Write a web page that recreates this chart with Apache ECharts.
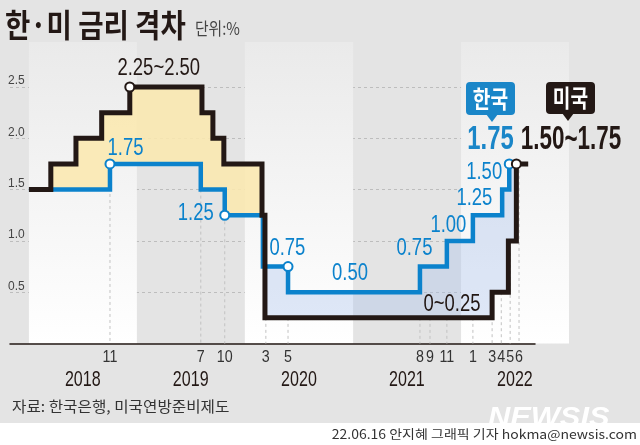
<!DOCTYPE html>
<html><head><meta charset="utf-8">
<script src="https://cdn.jsdelivr.net/npm/echarts@6/dist/echarts.min.js"></script>
<style>html,body{margin:0;padding:0;background:#e4e4e4}#c{width:640px;height:445px}</style>
</head><body><div id="c"></div>
<script>
// ---------- data (dates as placed on the chart) ----------
const usDates = ['2018-01-01','2018-03-16','2018-06-09','2018-09-04','2018-12-08','2019-08-09','2019-09-15','2019-10-22','2020-02-28','2020-03-09','2022-04-16','2022-06-10','2022-07-07','2022-08-16'];
const usUpper = [1.50,1.75,2.00,2.25,2.50,2.25,2.00,1.75,1.25,0.25,0.50,1.00,1.75,1.75];
const krDates = ['2018-01-01','2018-10-02','2019-08-05','2019-10-25','2020-03-02','2020-05-26','2021-08-15','2021-11-14','2022-02-10','2022-05-20','2022-06-13'];
const krRate  = [1.50,1.75,1.50,1.25,0.75,0.50,0.75,1.00,1.25,1.50,1.75];
const monthTickDates  = ['2018-10-02','2019-08-05','2019-10-25','2020-03-12','2020-05-26','2021-08-15','2021-09-18','2021-11-14','2022-02-10','2022-04-16','2022-05-17','2022-06-16','2022-07-16'];
const monthTickLabels = ['11','7','10','3','5','8','9','11','1','3','4','5','6'];
const years = ['2018','2019','2020','2021','2022'];
const yTickLabels = ['0.5','1.0','1.5','2.0','2.5'];
const titleText = '한·미 금리 격차';
const unitText = '단위:%';
const sourceText = '자료: 한국은행, 미국연방준비제도';
const creditText = '22.06.16 안지혜 그래픽 기자 hokma@newsis.com';

// ---------- helpers ----------
const T = s => Date.parse(s + 'T00:00:00Z');
const usT = usDates.map(T), krT = krDates.map(T);
function stepAt(ts, vs, t){ let v = vs[0]; for (let i=0;i<ts.length;i++){ if (ts[i] <= t) v = vs[i]; } return v; }
const allT = Array.from(new Set(usT.concat(krT))).sort((a,b)=>a-b);
const uG = allT.map(t => stepAt(usT, usUpper, t));
const kG = allT.map(t => stepAt(krT, krRate, t));

const BLUE = '#0b82cc', BADGE_BLUE = '#1a86c8', BLACK = '#231815';
const NUM = "'Liberation Sans','Arimo',sans-serif";
const KR_FONT = "'Noto Sans CJK KR',sans-serif";
const fmtRange = u => { const l = u - 0.25; return (l === 0 ? '0' : l.toFixed(2)) + '~' + u.toFixed(2); };

// markers: [date index, value index]
const krMarkers = [[1,1],[3,3],[5,4],[10,10]];
const usMarkers = [[4,4],[12,12]];
// label offsets relative to point: [index, dx, dy]
const krLabelSpec = [[1,15.5,-16],[3,-29,-2],[4,24.5,-18.6],[5,62,-19],[6,-5.5,-18.6],[7,1.5,-16],[8,1.5,-17],[9,-18,-17.6]];
const usLabelSpec = [[4,29,-19],[9,187,-13]];

const labelItems = krLabelSpec.map(([i,dx,dy]) => ({t: krT[i], v: krRate[i], text: krRate[i].toFixed(2), dx, dy, color: BLUE}))
  .concat(usLabelSpec.map(([i,dx,dy]) => ({t: usT[i], v: usUpper[i], text: fmtRange(usUpper[i]), dx, dy, color: BLACK})));

const markerData = krMarkers.map(([di,vi]) => ({value:[krT[di], krRate[vi]], itemStyle:{borderColor:BLUE}}))
  .concat(usMarkers.map(([di,vi]) => ({value:[usT[di], usUpper[vi]], itemStyle:{borderColor:BLACK}})));

const bandData = years.map((y,i)=>[T(y+'-01-01'), T((+y+1)+'-01-01'), i]).filter(d => d[2] % 2 === 0);

const chart = echarts.init(document.getElementById('c'));

const option = {
  animation: false,
  backgroundColor: '#e4e4e4',
  grid: {left: 10, right: 105, top: 87, bottom: 101.5, containLabel: false, outerBoundsMode: 'none'},
  xAxis: {
    type: 'time', min: T('2017-10-29'), max: T('2022-09-08'),
    axisLine: {show: true, lineStyle: {color: BLACK, width: 1.5}},
    axisTick: {show: false}, axisLabel: {show: false}, splitLine: {show: false}
  },
  yAxis: {
    type: 'value', min: 0, max: 2.5, interval: 0.5,
    axisLine: {show: false}, axisTick: {show: false},
    axisLabel: {inside: true, margin: -2, verticalAlign: 'bottom', color: '#444', fontFamily: NUM, fontSize: 12,
      formatter: v => { const i = Math.round(v/0.5) - 1; return i >= 0 ? yTickLabels[i] : ''; }},
    splitLine: {show: true, lineStyle: {type: [3,3], width: 1, color: ['rgba(0,0,0,0)','#bdbdbd','#bdbdbd','#bdbdbd','#bdbdbd','#bdbdbd']}}
  },
  series: [
    { // year bands
      type: 'custom', z: 0, silent: true, clip: false, data: bandData,
      renderItem(params, api){
        const cs = params.coordSys;
        const x0 = api.coord([api.value(0), 0])[0], x1 = api.coord([api.value(1), 0])[0];
        const top = cs.y - 45, bottom = cs.y + cs.height;
        return {type: 'rect', shape: {x: x0, y: top, width: x1 - x0, height: bottom - top},
          style: {fill: new echarts.graphic.LinearGradient(0,0,0,1,[{offset:0,color:'#eaeaea'},{offset:1,color:'#ffffff'}])}};
      }
    },
    { // month ticks: dashed verticals + labels
      type: 'custom', z: 1, silent: true, clip: false,
      data: monthTickDates.map((d,i) => { const t = T(d); return [t, Math.min(stepAt(usT,usUpper,t), stepAt(krT,krRate,t)), i]; }),
      renderItem(params, api){
        const p = api.coord([api.value(0), api.value(1)]);
        const base = api.coord([api.value(0), 0]);
        return {type: 'group', children: [
          {type: 'line', shape: {x1: p[0], y1: p[1], x2: p[0], y2: base[1]}, style: {stroke: '#c2c2c2', lineWidth: 1, lineDash: [3,3]}},
          {type: 'text', x: base[0], y: base[1] + 13.5, scaleX: 0.84, style: {x: 0, y: 0, text: monthTickLabels[api.value(2)], align: 'center', verticalAlign: 'middle', fill: '#333', font: '17px ' + NUM}}
        ]};
      }
    },
    { // year labels
      type: 'custom', z: 1, silent: true, clip: false,
      data: years.map((y,i) => [T(y+'-07-02'), i]),
      renderItem(params, api){
        const p = api.coord([api.value(0), 0]);
        return {type: 'text', x: p[0], y: p[1] + 36.5, scaleX: 0.73, style: {x: 0, y: 0, text: years[api.value(1)], align: 'center', verticalAlign: 'middle', fill: BLACK, font: '22px ' + NUM}};
      }
    },
    // yellow fill: US above Korea
    {type: 'line', stack: 'yel', step: 'end', z: 2, silent: true, symbol: 'none', clip: false, lineStyle: {opacity: 0},
      data: allT.map((t,i) => [t, kG[i]])},
    {type: 'line', stack: 'yel', step: 'end', z: 2, silent: true, symbol: 'none', clip: false, lineStyle: {opacity: 0},
      areaStyle: {color: 'rgba(250,232,175,0.88)', opacity: 1},
      data: allT.map((t,i) => [t, Math.max(uG[i] - kG[i], 0)])},
    // blue fill: Korea above US
    {type: 'line', stack: 'blu', step: 'end', z: 2, silent: true, symbol: 'none', clip: false, lineStyle: {opacity: 0},
      data: allT.map((t,i) => [t, uG[i]])},
    {type: 'line', stack: 'blu', step: 'end', z: 2, silent: true, symbol: 'none', clip: false, lineStyle: {opacity: 0},
      areaStyle: {color: 'rgba(165,190,235,0.36)', opacity: 1},
      data: allT.map((t,i) => [t, Math.max(kG[i] - uG[i], 0)])},
    // Korea line
    {type: 'line', name: '한국', step: 'end', z: 4, silent: true, symbol: 'none', clip: false,
      lineStyle: {color: BLUE, width: 4.5, cap: 'butt', join: 'miter'},
      data: krT.map((t,i) => [t, krRate[i]])},
    // US line
    {type: 'line', name: '미국', step: 'end', z: 5, silent: true, symbol: 'none', clip: false,
      lineStyle: {color: BLACK, width: 5, cap: 'butt', join: 'miter'},
      data: usT.map((t,i) => [t, usUpper[i]])},
    // markers
    {type: 'scatter', z: 6, silent: true, symbol: 'circle', symbolSize: 9, clip: false,
      itemStyle: {color: '#fff', borderWidth: 2, opacity: 1}, data: markerData},
    // value labels (condensed)
    {type: 'custom', z: 7, silent: true, clip: false,
      data: labelItems.map((d,i) => [d.t, d.v, i]),
      renderItem(params, api){
        const d = labelItems[api.value(2)];
        const p = api.coord([api.value(0), api.value(1)]);
        return {type: 'text', x: p[0] + d.dx, y: p[1] + d.dy, scaleX: 0.77,
          style: {x: 0, y: 0, text: d.text, align: 'center', verticalAlign: 'middle', fill: d.color, font: '24px ' + NUM}};
      }
    }
  ],
  graphic: [
    {type: 'text', z: 100, x: 5, y: 25, scaleX: 0.86, style: {text: titleText, font: 'bold 32px ' + KR_FONT, fill: BLACK, verticalAlign: 'middle'}},
    {type: 'text', z: 100, x: 195, y: 29, scaleX: 0.87, style: {text: unitText, font: '17px ' + KR_FONT, fill: '#444', verticalAlign: 'middle'}},
    {type: 'text', z: 100, x: 12, y: 406, scaleX: 1.08, style: {text: sourceText, font: '14.5px ' + KR_FONT, fill: '#333', verticalAlign: 'middle'}},
    {type: 'text', z: 100, x: 488, y: 404, scaleX: 1.1, style: {text: 'NEWSIS', font: 'italic bold 28px ' + NUM, fill: '#ffffff',
      shadowColor: 'rgba(0,0,0,0.28)', shadowBlur: 2, shadowOffsetX: 1, shadowOffsetY: 1, verticalAlign: 'top'}},
    {type: 'rect', z: 101, shape: {x: 0, y: 423, width: 640, height: 22}, style: {fill: '#ffffff'}},
    {type: 'text', z: 102, x: 637, y: 434, scaleX: 1.12, style: {text: creditText, font: '12.5px ' + KR_FONT, fill: '#333', align: 'right', verticalAlign: 'middle'}},
    // Korea badge
    {type: 'rect', z: 100, shape: {x: 466, y: 82, width: 49, height: 33, r: 4}, style: {fill: BADGE_BLUE}},
    {type: 'polygon', z: 100, shape: {points: [[486,114],[498,114],[492,122]]}, style: {fill: BADGE_BLUE}},
    {type: 'text', z: 101, x: 490.5, y: 98.5, scaleX: 0.8, style: {text: '한국', font: 'bold 24px ' + KR_FONT, fill: '#fff', align: 'center', verticalAlign: 'middle'}},
    {type: 'text', z: 100, x: 490.5, y: 140, scaleX: 0.7, style: {text: krRate[krRate.length-1].toFixed(2), font: 'bold 34px ' + NUM, fill: BADGE_BLUE, align: 'center', verticalAlign: 'middle'}},
    // US badge
    {type: 'rect', z: 100, shape: {x: 546, y: 82, width: 49, height: 32, r: 4}, style: {fill: BLACK}},
    {type: 'polygon', z: 100, shape: {points: [[562,113],[574,113],[568,121]]}, style: {fill: BLACK}},
    {type: 'text', z: 101, x: 570.5, y: 98, scaleX: 0.8, style: {text: '미국', font: 'bold 24px ' + KR_FONT, fill: '#fff', align: 'center', verticalAlign: 'middle'}},
    {type: 'text', z: 100, x: 571, y: 140, scaleX: 0.68, style: {text: fmtRange(usUpper[usUpper.length-1]), font: 'bold 33px ' + NUM, fill: BLACK, align: 'center', verticalAlign: 'middle'}}
  ]
};
chart.setOption(option);
</script>
</body></html>
